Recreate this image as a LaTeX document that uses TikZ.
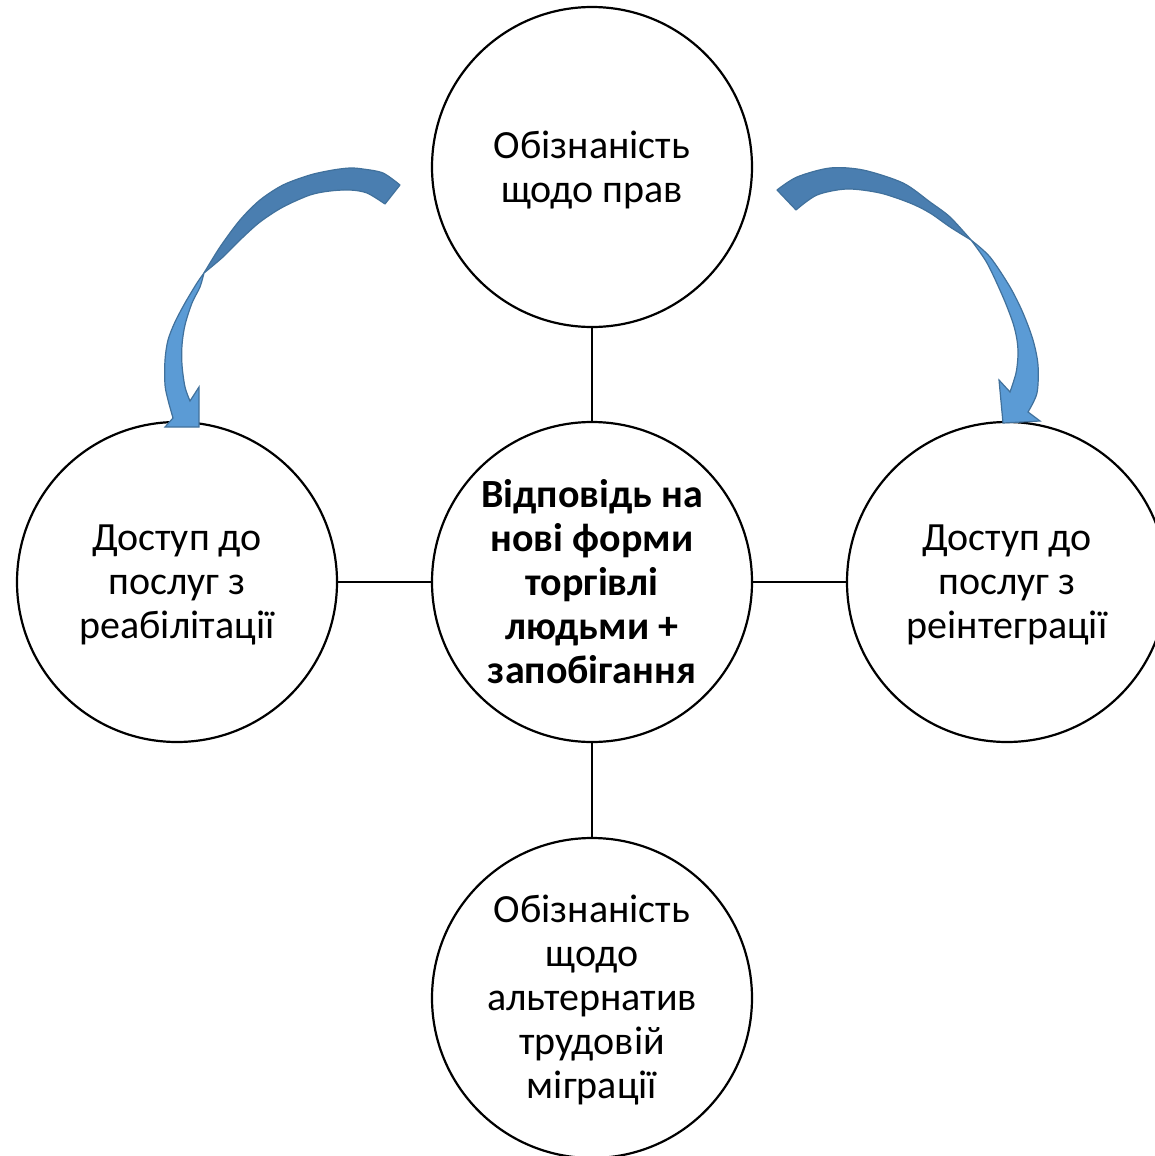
\documentclass[tikz,border=0pt]{standalone}
\usepackage{fontspec}
\setmainfont{Carlito}
\definecolor{arrdark}{HTML}{4A7EB0}
\definecolor{arrlight}{HTML}{5B9BD5}
\definecolor{arredge}{HTML}{41719C}
\begin{document}
\begin{tikzpicture}[x=1pt,y=-1pt,
  bubble/.style={circle,draw=black,line width=2.2pt,minimum size=320pt,inner sep=0pt,
    align=center,font=\fontsize{40}{44}\selectfont},
  plainlabel/.style={align=center,font=\fontsize{40}{44}\selectfont,inner sep=0pt},
  link/.style={line width=2pt,black},
  backpart/.style={fill=arrdark,draw=arredge,line width=1.2pt,line join=round},
  frontpart/.style={fill=arrlight,draw=arredge,line width=1.2pt,line join=miter}]
\useasboundingbox (0,0) rectangle (1155,1156);
\node[bubble] (top) at (592,167) {};
\node[plainlabel] (toptext) at (592,170) {Обізнаність\\щодо прав};
\node[bubble,font=\fontsize{40}{44}\selectfont\bfseries] (mid) at (592,582) {Відповідь на\\нові форми\\торгівлі\\людьми +\\запобігання};
\node[bubble] (left) at (177,582) {};
\node[plainlabel] (lefttext) at (177,585) {Доступ до\\послуг з\\реабілітації};
\node[bubble] (right) at (1007,582) {};
\node[plainlabel] (righttext) at (1007,585) {Доступ до\\послуг з\\реінтеграції};
\node[bubble] (bot) at (592,998) {};
\node[plainlabel] (bottext) at (592,1000) {Обізнаність\\щодо\\альтернатив\\трудовій\\міграції};
\draw[link] (top) -- (mid);
\draw[link] (left) -- (mid);
\draw[link] (mid) -- (right);
\draw[link] (mid) -- (bot);
% left curved arrow
\draw[backpart] plot[smooth] coordinates {(400,185) (383,173) (363,169) (350,168) (333,170) (310,175) (283,185) (260,200) (240,220) (220,247) (204,273)}
  -- plot[smooth] coordinates {(204,273) (223,257) (240,240) (260,222) (283,207) (310,195) (330,191) (350,190) (367,193) (385,204)} -- cycle;
\draw[frontpart] plot[smooth] coordinates {(204,273) (197,283) (185,303) (175,322) (168,340) (165,360) (165,385) (168,400) (173,418)}
  -- (165,427) -- (199,427) -- (199,387) -- (190,401)
  -- plot[smooth] coordinates {(190,401) (185,387) (182,365) (182,345) (185,325) (192,303) (200,287) (204,273)} -- cycle;
% right curved arrow
\draw[backpart] plot[smooth] coordinates {(777,190) (797,177) (830,168) (863,170) (903,183) (930,202) (950,217) (971,240)}
  -- plot[smooth] coordinates {(971,240) (950,227) (930,213) (910,203) (880,193) (847,189) (817,195) (796,210)} -- cycle;
\draw[frontpart] plot[smooth] coordinates {(971,240) (990,257) (1010,287) (1023,313) (1033,340) (1038,365) (1037,393) (1028,412)}
  -- (1040,421) -- (1003,423) -- (999,380) -- (1010,392)
  -- plot[smooth] coordinates {(1010,392) (1016,373) (1018,355) (1017,340) (1013,323) (1003,297) (987,263) (971,240)} -- cycle;
\end{tikzpicture}
\end{document}
